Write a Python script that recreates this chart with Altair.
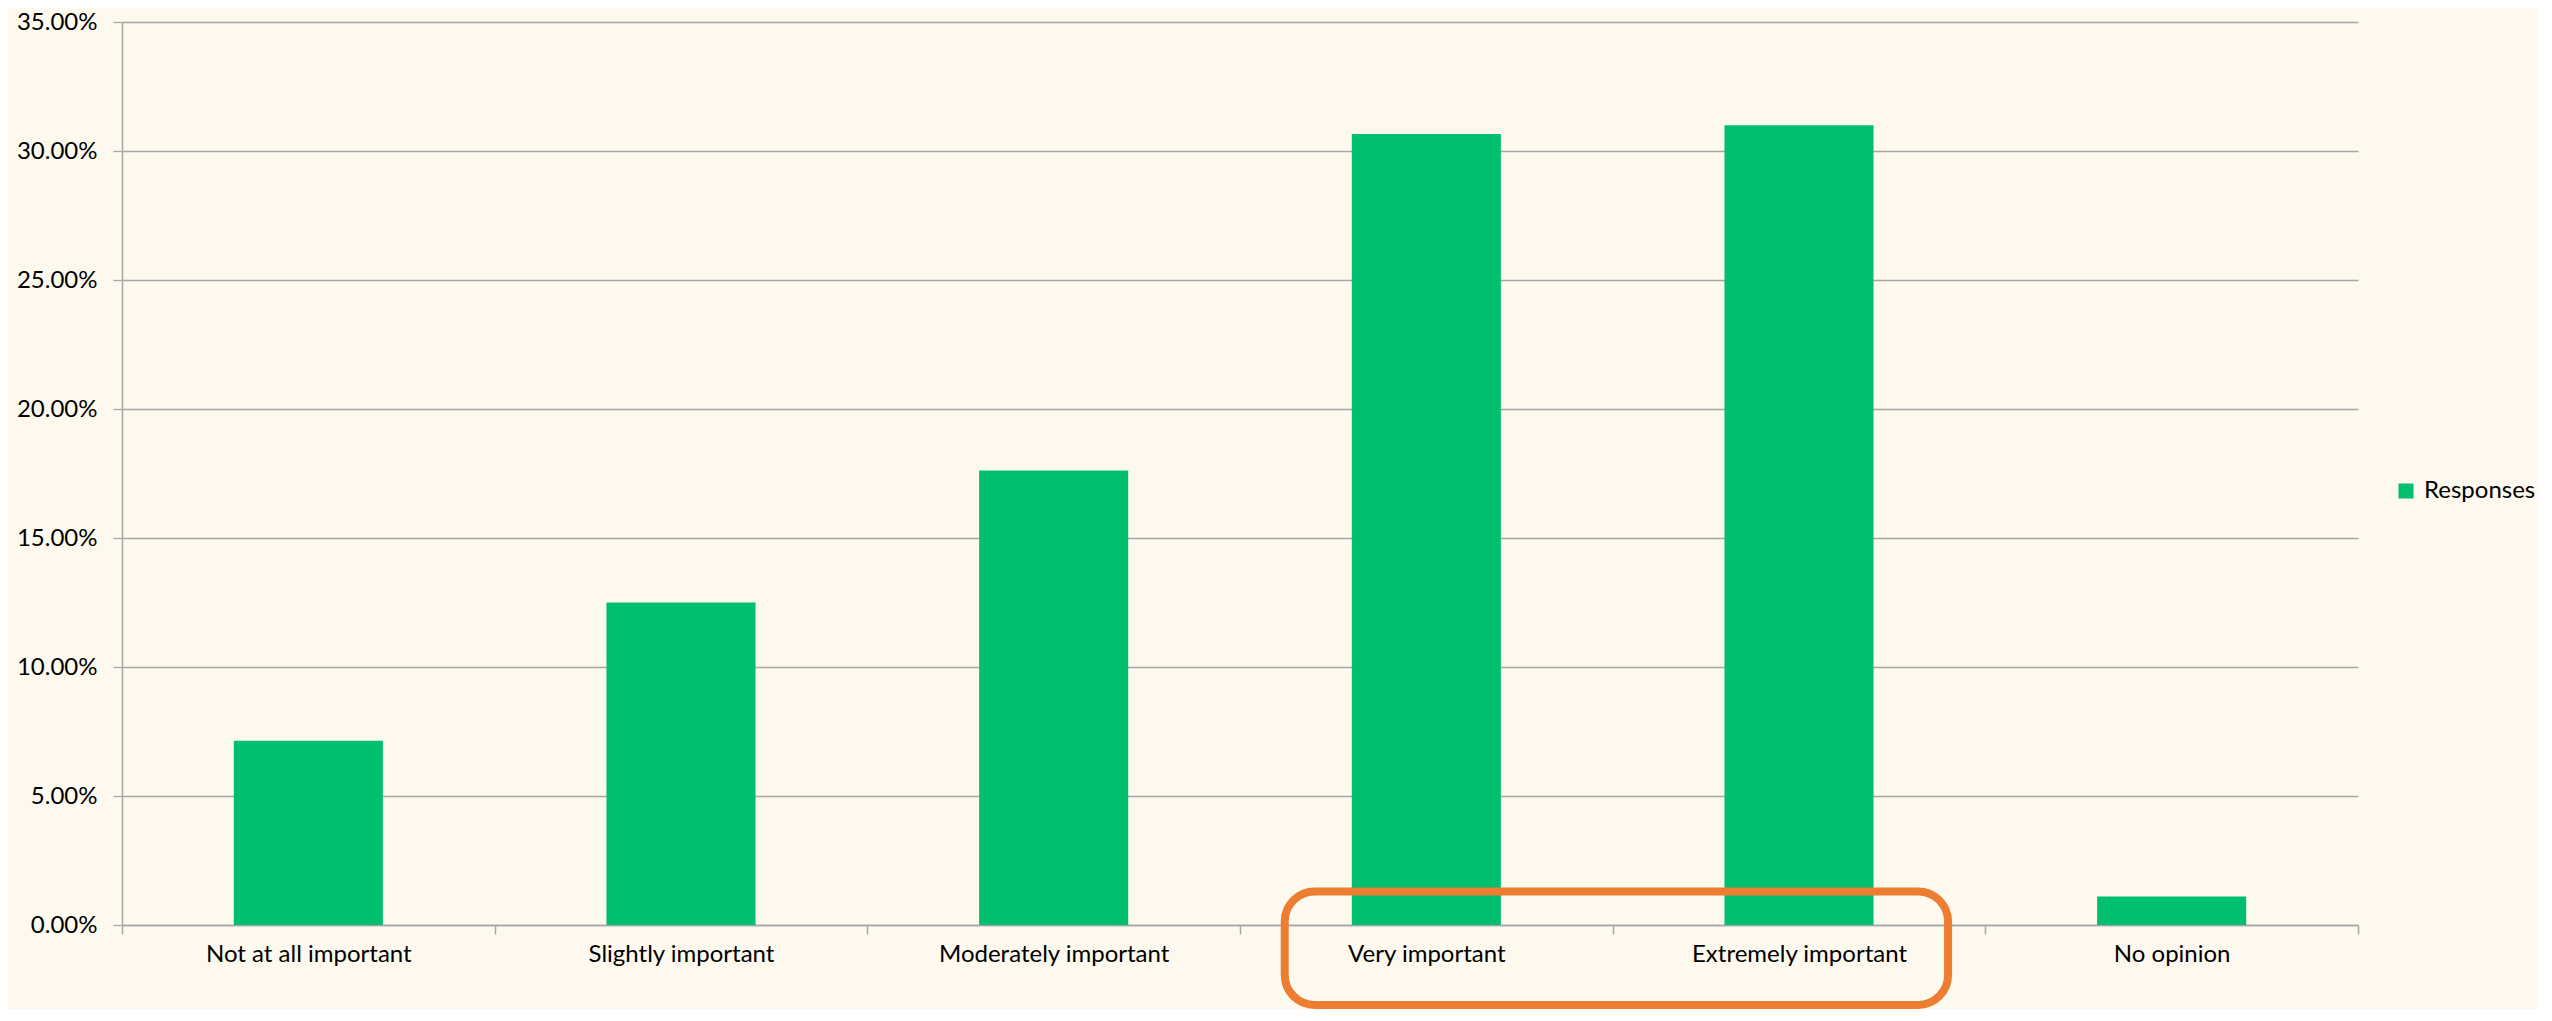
import altair as alt
import pandas as pd

categories = ["Not at all important", "Slightly important", "Moderately important",
              "Very important", "Extremely important", "No opinion"]
values = [0.0714, 0.1250, 0.1762, 0.3066, 0.3100, 0.0110]
series = "Responses"

# highlight box (in category units on x, share units on y)
box_x = [3.12]
box_x2 = [4.90]
box_y = [0.013]
box_y2 = [-0.031]

df = pd.DataFrame({"category": categories, "value": values, "series": [series] * len(categories)})
box = pd.DataFrame({"x": box_x, "x2": box_x2, "y": box_y, "y2": box_y2})

FONT = "Lato"
GRID = "#A6A6A6"
BG = "#FDF9EE"

bars = alt.Chart(df).mark_bar(width=alt.RelativeBandSize(0.4)).encode(
    x=alt.X("category:N", sort=categories,
            scale=alt.Scale(paddingInner=0, paddingOuter=0),
            axis=alt.Axis(title=None, labelAngle=0, tickBand="extent", grid=False,
                          labelFontSize=24, labelFont=FONT, labelColor="#000000",
                          labelLimit=0,
                          domainColor=GRID, tickColor=GRID, tickSize=9,
                          labelPadding=8, domainWidth=1.5, tickWidth=1.5)),
    y=alt.Y("value:Q",
            scale=alt.Scale(domain=[0, 0.35], nice=False),
            axis=alt.Axis(title=None, format=".2%", values=[0, 0.05, 0.1, 0.15, 0.2, 0.25, 0.3, 0.35],
                          labelFontSize=24, labelFont=FONT, labelColor="#000000",
                          grid=True, gridColor=GRID, gridWidth=1.3,
                          domainColor=GRID, tickColor=GRID, tickSize=9,
                          labelPadding=16, domainWidth=1.5, tickWidth=1.3)),
    color=alt.Color("series:N", scale=alt.Scale(range=["#00BF6F"]),
                    legend=alt.Legend(title=None, orient="none", legendX=2272, legendY=457,
                                      symbolType="square", symbolSize=225, symbolStrokeWidth=0,
                                      labelFontSize=24, labelFont=FONT, labelColor="#000000",
                                      labelOffset=6)),
)

hl = alt.Chart(box).mark_rect(filled=False, stroke="#ED7D31", strokeWidth=8,
                              cornerRadius=30, clip=False).encode(
    x=alt.X("x:Q", scale=alt.Scale(domain=[0, 6], nice=False, zero=False), axis=None),
    x2="x2:Q",
    y=alt.Y("y:Q"),
    y2="y2:Q",
)

chart = alt.layer(bars, hl).resolve_scale(x="independent").properties(
    width=2236, height=903,
    autosize=alt.AutoSizeParams(type="none"),
    padding={"left": 114, "top": 14, "right": 180, "bottom": 84},
    background=BG,
).configure_view(stroke=None)

chart.save("out.html", embed_options={"renderer": "svg", "actions": False})
